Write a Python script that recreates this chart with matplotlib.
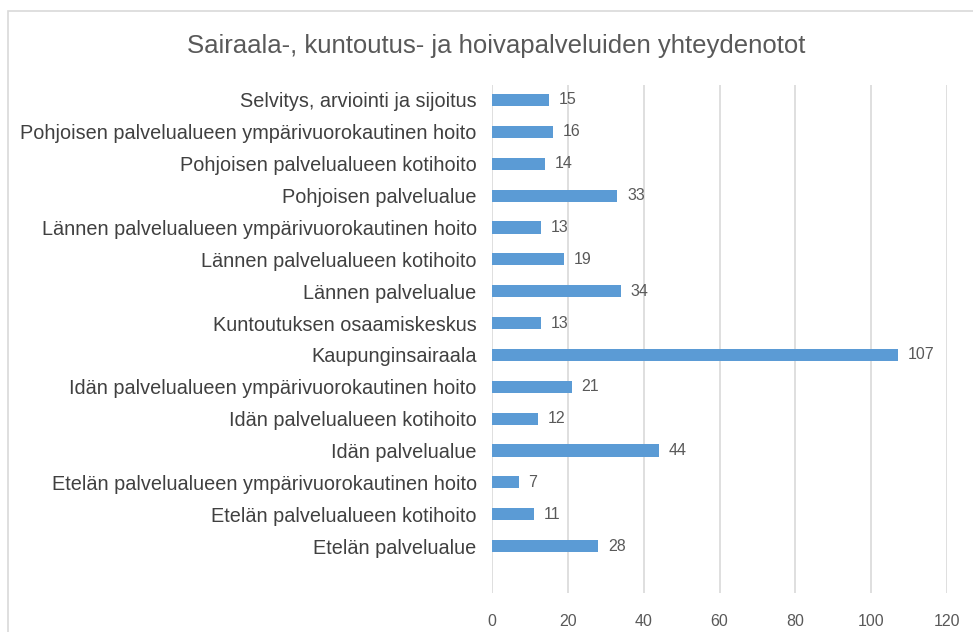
import numpy as np
import matplotlib
matplotlib.use('Agg')
import matplotlib.pyplot as plt
import matplotlib.patches as mpatches

plt.rcParams['font.family'] = ['Liberation Sans', 'DejaVu Sans']

# categories from bottom to top
categories = [
    'Etelän palvelualue',
    'Etelän palvelualueen kotihoito',
    'Etelän palvelualueen ympärivuorokautinen hoito',
    'Idän palvelualue',
    'Idän palvelualueen kotihoito',
    'Idän palvelualueen ympärivuorokautinen hoito',
    'Kaupunginsairaala',
    'Kuntoutuksen osaamiskeskus',
    'Lännen palvelualue',
    'Lännen palvelualueen kotihoito',
    'Lännen palvelualueen ympärivuorokautinen hoito',
    'Pohjoisen palvelualue',
    'Pohjoisen palvelualueen kotihoito',
    'Pohjoisen palvelualueen ympärivuorokautinen hoito',
    'Selvitys, arviointi ja sijoitus',
]
values = [28, 11, 7, 44, 12, 21, 107, 13, 34, 19, 13, 33, 14, 16, 15]
xticks = [0, 20, 40, 60, 80, 100, 120]
title = 'Sairaala-, kuntoutus- ja hoivapalveluiden yhteydenotot'

text_col = '#595959'
bar_col = '#5B9BD5'
grid_col = '#D9D9D9'

fig = plt.figure(figsize=(9.73, 6.32), dpi=100)
ax = fig.add_axes([492 / 973, 1 - 593 / 632, 455 / 973, (593 - 85) / 632])

y = np.arange(len(categories))
ax.barh(y, values, height=0.38, color=bar_col, zorder=3)
for yi, v in zip(y, values):
    ax.text(v + 2.6, yi, str(v), va='center', ha='left', fontsize=11.5, color=text_col)

ax.set_xlim(0, 120)
ax.set_ylim(-1.47, len(categories) - 1 + 0.47)
ax.set_xticks(xticks)
ax.set_yticks(y)
ax.set_yticklabels(categories, fontsize=14.3, color='#404040')
ax.tick_params(axis='x', colors=text_col, labelsize=11.5, length=0, pad=15)
ax.tick_params(axis='y', length=0, pad=11)
ax.xaxis.grid(True, color=grid_col, linewidth=1.2, zorder=0)
for s in ax.spines.values():
    s.set_visible(False)

fig.text(496 / 973, 1 - 46 / 632, title, ha='center', va='center', fontsize=18.5, color=text_col)

# chart border
border = mpatches.Rectangle((7.5 / 973, -0.1), 1.2, 1 - 11 / 632 + 0.1, transform=fig.transFigure,
                            fill=False, edgecolor='#D9D9D9', linewidth=1.2)
fig.patches.append(border)

fig.savefig('out.png', dpi=100)
